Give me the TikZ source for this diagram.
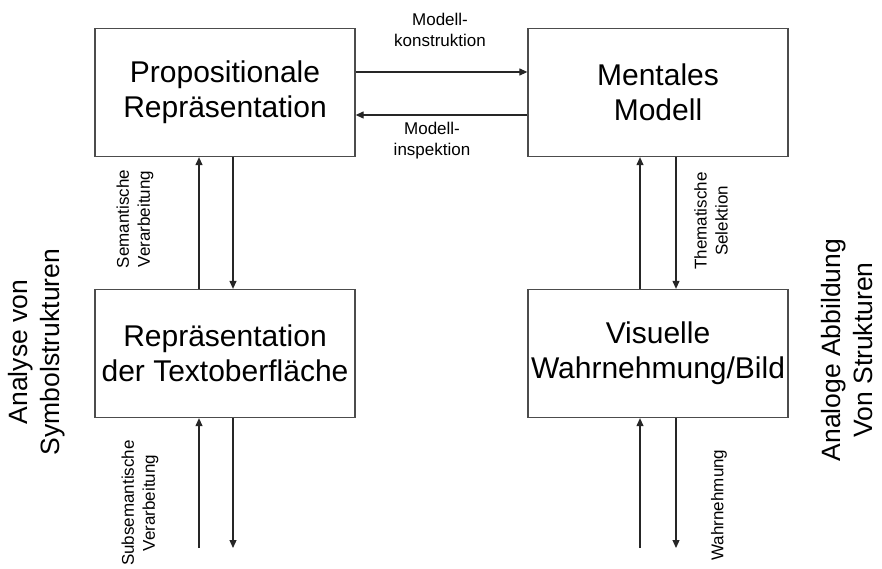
\documentclass[tikz,border=0pt]{standalone}
\usepackage{fontspec}
\setmainfont{Liberation Sans}
\usetikzlibrary{arrows.meta}

\tikzset{
  box/.style={draw=black!70, line width=1.3pt, minimum width=260pt, minimum height=128pt,
    inner sep=0pt, align=center, font=\fontsize{30}{35}\selectfont},
  small/.style={align=center, inner sep=0pt, font=\fontsize{17}{21}\selectfont},
  side/.style={align=center, inner sep=0pt, rotate=90, font=\fontsize{26.5}{32}\selectfont},
  link/.style={black!85, line width=1.2pt}
}

\begin{document}
\begin{tikzpicture}[>={Triangle[length=8pt,width=7pt]}, x=1pt, y=-1pt]

  % Picture frame
  \useasboundingbox (0,0) rectangle (882,569);

  % Boxes
  \node[box] (prop) at (225,92.5) {Propositionale\\Repräsentation};
  \node[box] (mental) at (658,92.5) {Mentales\\Modell};
  \node[box] (textobfl) at (225,353.5) {Repräsentation\\der Textoberfläche};
  \node[box] (visuell) at (658,353.5) {Visuelle\\Wahrnehmung/Bild};

  % Free ends at the bottom
  \coordinate (subUp) at (199,548);
  \coordinate (subDown) at (233,548);
  \coordinate (wahrUp) at (640,548);
  \coordinate (wahrDown) at (676,548);

  % Between the upper boxes
  \draw[link, ->] ([yshift=20.5pt]prop.east) -- ([yshift=20.5pt]mental.west);
  \draw[link, ->] ([yshift=-22.5pt]mental.west) -- ([yshift=-22.5pt]prop.east);
  \node[small] (konstr) at (440,30) {Modell-\\konstruktion};
  \node[small] (inspekt) at (432,141) {Modell-\\inspektion};

  % Left column
  \draw[link, ->] ([xshift=-26pt]textobfl.north) -- ([xshift=-26pt]prop.south);
  \draw[link, ->] ([xshift=8pt]prop.south) -- ([xshift=8pt]textobfl.north);
  \draw[link, ->] (subUp) -- (subUp |- textobfl.south);
  \draw[link, ->] (textobfl.south -| subDown) -- (subDown);
  \node[small, rotate=90] (semant) at (135,219) {Semantische\\Verarbeitung};
  \node[small, rotate=90] (subsem) at (140,503) {Subsemantische\\Verarbeitung};

  % Right column
  \draw[link, ->] ([xshift=-18pt]visuell.north) -- ([xshift=-18pt]mental.south);
  \draw[link, ->] ([xshift=18pt]mental.south) -- ([xshift=18pt]visuell.north);
  \draw[link, ->] (wahrUp) -- (wahrUp |- visuell.south);
  \draw[link, ->] (visuell.south -| wahrDown) -- (wahrDown);
  \node[small, rotate=90] (themsel) at (711,221) {Thematische\\Selektion};
  \node[small, rotate=90] (wahrn) at (719,505) {Wahrnehmung};

  % Side titles
  \node[side] (analyse) at (37,352) {Analyse von\\Symbolstrukturen};
  \node[side] (analog) at (847,350) {Analoge Abbildung\\Von Strukturen};

\end{tikzpicture}
\end{document}
